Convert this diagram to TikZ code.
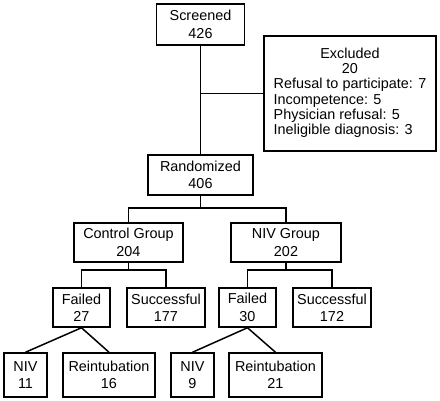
\documentclass[tikz,border=0pt]{standalone}
\usepackage{fontspec}
\setmainfont{Liberation Sans}
\begin{document}
\begin{tikzpicture}[x=1pt,y=-1pt,
  box/.style={draw,line width=1.5pt,inner sep=0pt,align=center,
    font=\fontsize{14.4}{17.3}\selectfont},
  conn/.style={line width=1.5pt}]
\useasboundingbox (0,0) rectangle (440,401);
\node[box,minimum width=88,minimum height=41] (scr) at (200.5,24.5) {Screened\\426};
\node[box,minimum width=172,minimum height=115,font=\fontsize{14.4}{15.3}\selectfont] (excl) at (350,93.5)
  {\raisebox{-1.5pt}{\begin{tabular}{@{}l@{}}\multicolumn{1}{@{}c@{}}{Excluded}\\\multicolumn{1}{@{}c@{}}{20}\\Refusal to participate: 7\\Incompetence: 5\\Physician refusal: 5\\Ineligible diagnosis: 3\end{tabular}}};
\node[box,minimum width=105,minimum height=40] (rand) at (200.5,175) {Randomized\\406};
\node[box,minimum width=109,minimum height=39] (ctrl) at (128.5,242.5) {Control Group\\204};
\node[box,minimum width=110,minimum height=39] (nivg) at (286,242.5) {NIV Group\\202};
\node[box,minimum width=57,minimum height=39] (fail1) at (81.5,307.5) {Failed\\27};
\node[box,minimum width=78,minimum height=39] (succ1) at (166,307.5) {Successful\\177};
\node[box,minimum width=57,minimum height=39] (fail2) at (247.5,307.5) {Failed\\30};
\node[box,minimum width=78,minimum height=39] (succ2) at (332,307.5) {Successful\\172};
\node[box,minimum width=43,minimum height=44] (niv1) at (25.5,375) {NIV\\11};
\node[box,minimum width=92,minimum height=44] (rein1) at (109,375) {Reintubation\\16};
\node[box,minimum width=43,minimum height=44] (niv2) at (192.5,375) {NIV\\9};
\node[box,minimum width=93,minimum height=44] (rein2) at (275.5,375) {Reintubation\\21};
\coordinate (j1) at (200.5,208);
\coordinate (j2) at (128.5,270);
\coordinate (j3) at (286,270);
\draw[conn] (scr.south) -- (rand.north);
\draw[conn] (scr.south |- excl.west) -- (excl.west);
\draw[conn] (rand.south) -- (j1);
\draw[conn] (ctrl.north) |- (j1) -| (nivg.north);
\draw[conn] (ctrl.south) -- (j2);
\draw[conn] (fail1.north) |- (j2) -| (succ1.north);
\draw[conn] (nivg.south) -- (j3);
\draw[conn] (fail2.north) |- (j3) -| (succ2.north);
\draw[conn] (niv1.north) -- (fail1.south) -- (rein1.north);
\draw[conn] (niv2.north) -- (fail2.south) -- (rein2.north);
\end{tikzpicture}
\end{document}
